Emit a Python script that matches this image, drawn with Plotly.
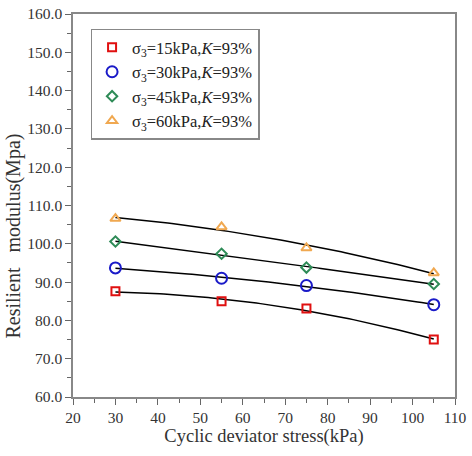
import numpy as np
import plotly.graph_objects as go

stress = [30, 55, 75, 105]
s15 = [87.6, 85.0, 83.1, 75.0]
s30 = [93.7, 91.0, 89.1, 84.1]
s45 = [100.6, 97.4, 93.8, 89.5]
s60 = [106.6, 104.4, 98.9, 92.4]
names = ["σ<sub>3</sub>=15kPa,<i>K</i>=93%", "σ<sub>3</sub>=30kPa,<i>K</i>=93%",
         "σ<sub>3</sub>=45kPa,<i>K</i>=93%", "σ<sub>3</sub>=60kPa,<i>K</i>=93%"]
colors = ["#e01010", "#1a1ac8", "#2e8b57", "#f0a850"]
symbols = ["square-open", "circle-open", "diamond-open", "triangle-up-open"]
sizes = [8, 11, 8, 9]

fig = go.Figure()
xs = np.linspace(30, 105, 80)
for ys in [s15, s30, s45, s60]:
    c = np.polyfit(stress, ys, 2)
    fig.add_trace(go.Scatter(x=xs, y=np.polyval(c, xs), mode="lines",
                             line=dict(color="black", width=1.5), showlegend=False,
                             hoverinfo="skip"))
for ys, n, col, sym, sz in zip([s15, s30, s45, s60], names, colors, symbols, sizes):
    fig.add_trace(go.Scatter(x=stress, y=ys, mode="markers", name=n,
                             marker=dict(symbol=sym, color=col, size=sz,
                                         line=dict(width=2, color=col))))

font = "Times New Roman, Liberation Serif, serif"
axis_common = dict(showline=True, linecolor="#888888", linewidth=1.5, mirror=True,
                   ticks="outside", ticklen=6, tickcolor="#666666", showgrid=False,
                   zeroline=False, ticklabeloverflow="allow",
                   tickfont=dict(family=font, size=15.5, color="#333333"))
fig.update_xaxes(range=[20, 110], dtick=10, tick0=20,
                 minor=dict(dtick=5, ticks="outside", ticklen=4, tickcolor="#666666"),
                 title=dict(text="Cyclic deviator stress(kPa)",
                            font=dict(family=font, size=18.5, color="#333333"), standoff=1),
                 **axis_common)
fig.update_yaxes(range=[60, 160], dtick=10, tick0=60, tickformat=".1f",
                 minor=dict(dtick=5, ticks="outside", ticklen=4, tickcolor="#666666"),
                 **axis_common)
fig.add_annotation(text="Resilient   modulus(Mpa)", textangle=-90, showarrow=False,
                   xref="paper", yref="paper", x=-0.156, y=0.42,
                   xanchor="center", yanchor="middle",
                   font=dict(family=font, size=20, color="#333333"))
fig.update_layout(width=472, height=456, margin=dict(l=73, r=9, t=5, b=59),
                  plot_bgcolor="white", paper_bgcolor="white",
                  font=dict(family=font),
                  legend=dict(x=0.046, y=0.962, xanchor="left", yanchor="top",
                              bordercolor="#888888", borderwidth=1.5,
                              font=dict(family=font, size=16.5, color="#222222"),
                              bgcolor="white", itemwidth=30))
fig.write_html("out.html")
